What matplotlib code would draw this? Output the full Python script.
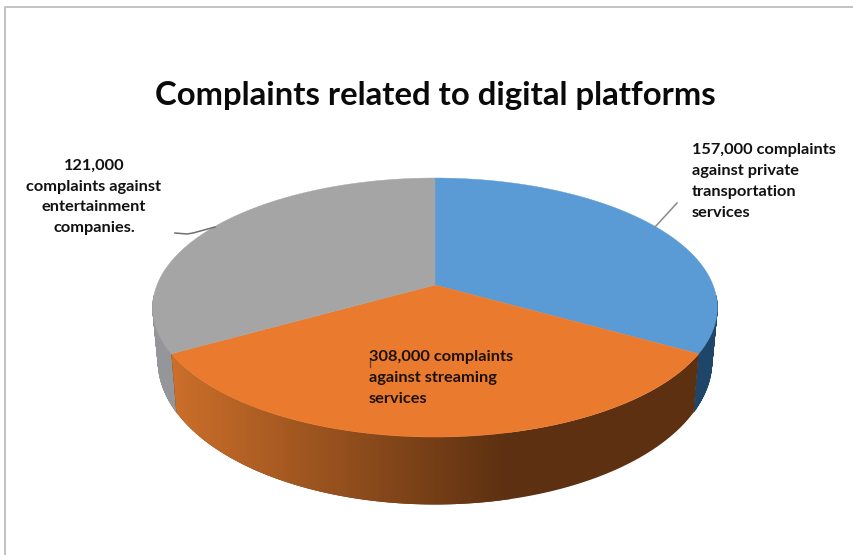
import numpy as np
import matplotlib
matplotlib.use('Agg')
import matplotlib.pyplot as plt
from matplotlib.colors import LinearSegmentedColormap
from matplotlib.patches import Polygon

title = 'Complaints related to digital platforms'
# slices run clockwise from 12 o'clock, the drawn pie has three equal parts
slice_shares = [33.33, 33.33, 33.33]
slice_labels = ['157,000 complaints\nagainst private\ntransportation\nservices',
                '308,000 complaints\nagainst streaming\nservices',
                '121,000\ncomplaints against\nentertainment\ncompanies.']
top_colors = ['#5b9bd5', '#ea7b2e', '#a5a5a5']
side_colors = ['#1f4668', '#cc6f2a', '#94969a']
orange_dark = '#5c3011'

# pie geometry in pixels
cx, cy = 435, 285
a, b, k = 278, 125.6, 0.174
bottom_sx, bottom_sy, bottom_dy = 0.981, 1.108, 51


def top_point(theta):
    x = np.sin(theta)
    y = np.cos(theta)
    return a * x / (1 + k * y), -b * y / (1 + k * y)


def bottom_point(theta):
    dx, dy = top_point(theta)
    return bottom_sx * dx, bottom_sy * dy + bottom_dy


fig = plt.figure(figsize=(8.54, 5.55), dpi=100)
ax = fig.add_axes([0, 0, 1, 1])
ax.axis('off')

# frame of the original chart
ax.plot([5, 5, 854], [555, 7, 7], color='#bdbdbd', lw=1.3)

edges = np.cumsum([0] + slice_shares) / sum(slice_shares) * 2 * np.pi

# side wall of the blue and gray slices: flat strips
for i in [0, 2]:
    angles = np.linspace(edges[i], edges[i + 1], 300)
    angles = angles[np.cos(angles) < -0.08]
    tx, ty = top_point(angles)
    bx, by = bottom_point(angles)
    for j in range(len(angles) - 1):
        ax.add_patch(Polygon([(cx + tx[j], cy + ty[j]), (cx + tx[j + 1], cy + ty[j + 1]),
                              (cx + bx[j + 1], cy + by[j + 1]), (cx + bx[j], cy + by[j])],
                             closed=True, fc=side_colors[i], ec=side_colors[i],
                             lw=0.5, zorder=2))

# orange wall: gradient image clipped to the wall outline
angles = np.linspace(edges[1], edges[2], 300)
tx, ty = top_point(angles)
bx, by = bottom_point(angles)
pts = list(zip(cx + tx, cy + ty)) + list(zip(cx + bx[::-1], cy + by[::-1]))
wall = Polygon(pts, closed=True, fc=orange_dark, ec='none', zorder=2)
ax.add_patch(wall)
# the ramp ends near x=510, the wall stays dark to its right
cmap = LinearSegmentedColormap.from_list('wall', [side_colors[1], orange_dark])
im = ax.imshow(np.linspace(0, 1, 256).reshape(1, -1), cmap=cmap, aspect='auto',
               extent=[170, 510, 520, 280], zorder=2.1)
im.set_clip_path(wall)

# top faces
for i in range(len(slice_shares)):
    angles = np.linspace(edges[i], edges[i + 1], 200)
    xs, ys = top_point(angles)
    pts = [(cx, cy)] + list(zip(cx + xs, cy + ys))
    ax.add_patch(Polygon(pts, closed=True, fc=top_colors[i], ec=top_colors[i],
                         lw=0.3, zorder=3))

# leader lines
ax.plot([655, 677], [227, 203], color='#8a8a8a', lw=1.1, zorder=4)
ax.plot([175, 187, 193, 215], [233, 234, 233, 227], color='#6f6f6f', lw=1.1, zorder=4)
ax.plot([370, 370], [358, 367], color='#5a4030', lw=0.9, zorder=4)

font = ['Lato', 'DejaVu Sans']
ax.text(435, 95, title, ha='center', va='center', family=font,
        fontweight='bold', fontsize=23.7, color='#0a0a0a', zorder=5)
ax.text(692, 181.5, slice_labels[0], ha='left', va='center', family=font,
        fontweight='bold', fontsize=11.8, linespacing=1.63, color='#111111', zorder=5)
ax.text(369, 378, slice_labels[1], ha='left', va='center', family=font,
        fontweight='bold', fontsize=11.8, linespacing=1.63, color='#1d1208', zorder=5)
ax.text(94, 197, slice_labels[2], ha='center', va='center', family=font,
        fontweight='bold', fontsize=11.8, linespacing=1.63, color='#111111', zorder=5)

ax.set_xlim(0, 854)
ax.set_ylim(555, 0)
fig.savefig('out.png', dpi=100)
